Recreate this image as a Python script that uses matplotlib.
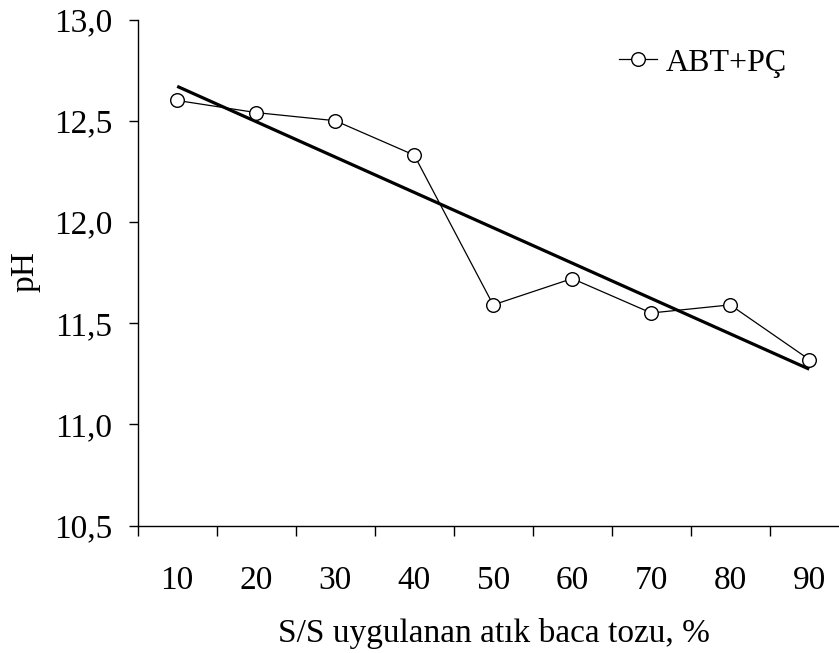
import numpy as np
import matplotlib
matplotlib.use("Agg")
import matplotlib.pyplot as plt
from matplotlib.ticker import FixedLocator, FuncFormatter

plt.rcParams['font.family'] = ['Liberation Serif', 'DejaVu Serif']

# Data
categories = ["10", "20", "30", "40", "50", "60", "70", "80", "90"]
ph_values = [12.60, 12.54, 12.50, 12.33, 11.59, 11.72, 11.55, 11.59, 11.32]
series_name = "ABT+PÇ"
y_ticks = [10.5, 11.0, 11.5, 12.0, 12.5, 13.0]

FS = 24
LEG_FS = 23

fig = plt.figure(figsize=(8.39, 6.53), dpi=100)
ax = fig.add_axes([137.7 / 839, 1 - 525.5 / 653, 711 / 839, 506 / 653])

x = np.arange(1, len(categories) + 1)
y = np.array(ph_values)

# Measured series
ax.plot(x, y, color='black', lw=0.9, marker='o', markersize=9.8,
        markerfacecolor='white', markeredgecolor='black', markeredgewidth=1.0,
        label=series_name, zorder=3)

# Linear trend line
slope, intercept = np.polyfit(x, y, 1)
ax.plot(x, slope * x + intercept, color='black', lw=2.3, zorder=2,
        solid_capstyle='butt')

ax.set_xlim(0.5, len(categories) + 0.5)
ax.set_ylim(y_ticks[0], y_ticks[-1])

ax.spines['top'].set_visible(False)
ax.spines['right'].set_visible(False)
for s in ('left', 'bottom'):
    ax.spines[s].set_linewidth(1.0)

# Category labels at centres, tick marks on the boundaries
ax.set_xticks(x)
ax.set_xticklabels(categories, fontsize=FS)
ax.xaxis.set_minor_locator(FixedLocator(np.arange(0.5, len(categories) + 1, 1.0)))
ax.tick_params(axis='x', which='major', length=0, pad=29)
ax.tick_params(axis='x', which='minor', length=7, width=1.0, direction='out')

ax.set_yticks(y_ticks)
ax.yaxis.set_major_formatter(FuncFormatter(lambda v, p: f"{v:.1f}".replace('.', ',')))
ax.tick_params(axis='y', which='major', length=6.5, width=1.0, direction='out',
               pad=12, labelsize=FS)

fig.text(25 / 839, 1 - 272 / 653, "pH", rotation=90, ha='center', va='center',
         fontsize=FS)
fig.text(494 / 839, 1 - 642 / 653, "S/S uygulanan atık baca tozu, %",
         ha='center', va='baseline', fontsize=FS)

ax.legend(loc='center left', bbox_to_anchor=(619 / 839, 1 - 63 / 653),
          bbox_transform=fig.transFigure, frameon=False, fontsize=LEG_FS,
          handlelength=1.19, handletextpad=0.28, borderpad=0, borderaxespad=0)

fig.savefig("out.png", dpi=100)
